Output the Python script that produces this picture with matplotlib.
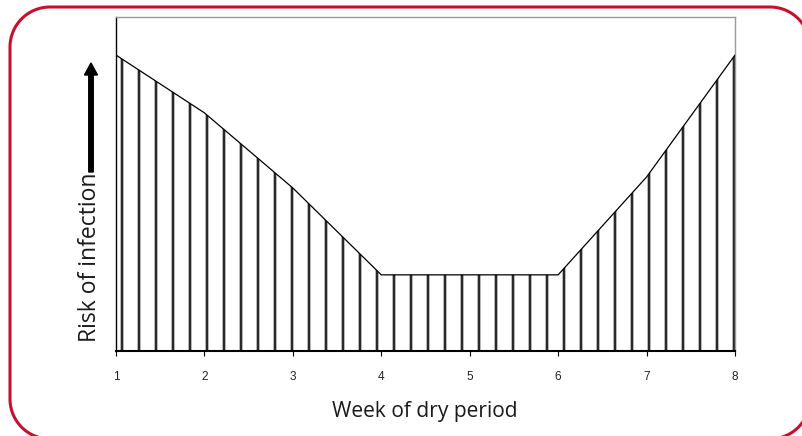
import numpy as np
import matplotlib
matplotlib.use('Agg')
import matplotlib.pyplot as plt
from matplotlib.patches import FancyArrow
from matplotlib.lines import Line2D
from matplotlib.transforms import IdentityTransform

weeks = [1, 2, 3, 4, 5, 6, 7, 8]
risk = [88.6, 71.3, 48.8, 22.8, 22.8, 22.8, 52.1, 88.6]
xticks = [1, 2, 3, 4, 5, 6, 7, 8]

W, H = 803, 436
fig = plt.figure(figsize=(W/100, H/100), dpi=100)
ax = fig.add_axes([116/W, (H-351)/H, 619/W, 334/H])

# area under curve, filled white, with vertical stripe pattern clipped to it
area = ax.fill_between(weeks, risk, 0, color='white', lw=0, zorder=1)
stripes = np.arange(1.064, 8.01, 0.1923)
vl = ax.vlines(stripes, 0, 100, color='#a8a8a8', lw=2.6, zorder=2)
vl.set_clip_path(area.get_paths()[0], ax.transData)
vl2 = ax.vlines(stripes, 0, 100, color='#1c1c1c', lw=1.3, zorder=2)
vl2.set_clip_path(area.get_paths()[0], ax.transData)
ax.plot(weeks, risk, color='black', lw=0.9, zorder=3)

ax.set_xlim(1, 8)
ax.set_ylim(0, 100)
ax.set_xticks(xticks)
ax.set_xticklabels([str(t) for t in xticks], fontsize=8.5, family='Liberation Sans', color='#222222')
ax.tick_params(axis='x', direction='out', length=3.5, width=0.8, pad=11)
ax.set_yticks([])
ax.spines['left'].set_linewidth(1.0)
ax.spines['bottom'].set_linewidth(1.5)
for s in ['top', 'right']:
    ax.spines[s].set_color('#9a9a9a')
    ax.spines[s].set_linewidth(1.0)

fig.text(425/W, (H-411)/H, 'Week of dry period', ha='center', va='center',
         fontsize=15.1, family='Open Sans', color='#1a1a1a')
fig.text(90/W, (H-257)/H, 'Risk of infection', ha='center', va='center', rotation=90,
         fontsize=16.5, family='Open Sans', color='#1a1a1a')

arrow = FancyArrow(91, H-172, 0, 109, width=4.5, head_width=13, head_length=12,
                   length_includes_head=True, color='black', transform=IdentityTransform())
fig.add_artist(arrow)

# red rounded frame (partly outside the image on the right and bottom)
x0, x1, y0, y1, r = 10, 810, -3, H-7, 40
t = np.linspace(0, np.pi/2, 30)
bx = np.concatenate([x1-r+r*np.cos(t), x0+r-r*np.sin(t), x0+r-r*np.cos(t), x1-r+r*np.sin(t)])
by = np.concatenate([y1-r+r*np.sin(t), y1-r+r*np.cos(t), y0+r-r*np.sin(t), y0+r-r*np.cos(t)])
bx = np.append(bx, bx[0])
by = np.append(by, by[0])
fig.add_artist(Line2D(bx, by, color='#c8102e', lw=2.2, transform=IdentityTransform()))

fig.savefig('out.png', dpi=100)
